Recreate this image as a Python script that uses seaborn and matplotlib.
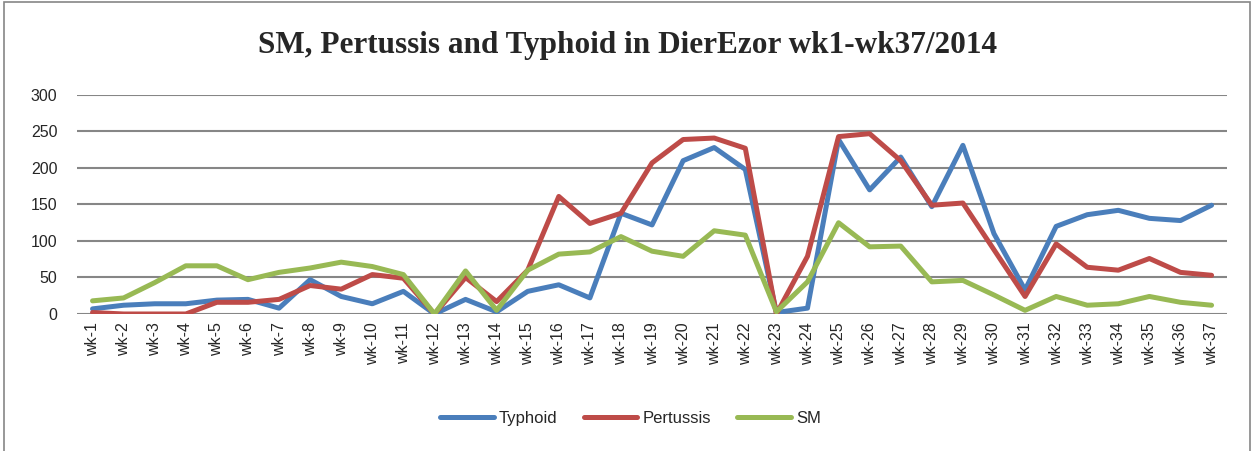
import pandas as pd
import matplotlib
matplotlib.use("Agg")
import matplotlib.pyplot as plt
import seaborn as sns
from matplotlib.patches import Rectangle

weeks = ["wk-%d" % i for i in range(1, 38)]

typhoid = [7, 12, 14, 14, 19, 20, 8, 47, 24, 14, 31, 0, 20, 3, 31, 40, 22, 138, 122,
           210, 228, 198, 2, 8, 239, 170, 215, 147, 231, 110, 33, 120, 136, 142, 131, 128, 149]
pertussis = [2, 0, 0, 0, 16, 16, 20, 39, 34, 54, 49, 0, 50, 17, 60, 161, 124, 138, 207,
             239, 241, 227, 0, 79, 243, 247, 210, 149, 152, 88, 24, 96, 64, 60, 76, 57, 53]
sm = [18, 22, 43, 66, 66, 47, 57, 63, 71, 65, 54, 0, 59, 5, 60, 82, 85, 106, 86,
      79, 114, 108, 3, 44, 125, 92, 93, 44, 46, 26, 5, 24, 12, 14, 24, 16, 12]

series_names = ["Typhoid", "Pertussis", "SM"]
colors = ["#4A7EBB", "#BE4B48", "#98B954"]

df = pd.DataFrame({
    "week": weeks * 3,
    "value": typhoid + pertussis + sm,
    "disease": [n for n in series_names for _ in weeks],
})


def main():
    sns.set_style("white")
    plt.rcParams["font.family"] = ["Liberation Sans", "DejaVu Sans"]

    fig = plt.figure(figsize=(12.56, 4.51), dpi=100)
    ax = fig.add_axes([0.0613, 0.3038, 0.9157, 0.4856])

    sns.lineplot(data=df, x="week", y="value", hue="disease", hue_order=series_names,
                 palette=colors, linewidth=3.6, sort=False, ax=ax, legend=False)

    ax.set_xlim(-0.5, len(weeks) - 0.5)
    ax.set_ylim(0, 300)
    ax.set_yticks(range(0, 301, 50))
    ax.set_xticks(range(len(weeks)))
    ax.set_xticklabels(weeks, rotation=90, fontsize=11.5)
    ax.tick_params(axis="y", labelsize=11.5, length=0, pad=14)
    ax.tick_params(axis="x", length=0, pad=6)
    ax.grid(axis="y", color="#868686", linewidth=1.5)
    ax.set_axisbelow(True)
    for s in ax.spines.values():
        s.set_visible(False)
    ax.set_xlabel("")
    ax.set_ylabel("")

    fig.text(0.5, 0.90, "SM, Pertussis and Typhoid in DierEzor wk1-wk37/2014",
             ha="center", va="center", fontsize=22.5, fontweight="bold",
             family="Liberation Serif")

    handles = [plt.Line2D([], [], color=c, linewidth=3.6) for c in colors]
    fig.legend(handles, series_names, loc="center", bbox_to_anchor=(0.502, 0.073),
               ncol=3, frameon=False, fontsize=12, handlelength=3.2,
               columnspacing=1.6, handletextpad=0.3)

    fig.patches.append(Rectangle((0.003, -0.01), 0.992, 1.005, transform=fig.transFigure,
                                 fill=False, edgecolor="#868686", linewidth=1.2))

    fig.savefig("out.png", dpi=100)


if __name__ == "__main__":
    main()
